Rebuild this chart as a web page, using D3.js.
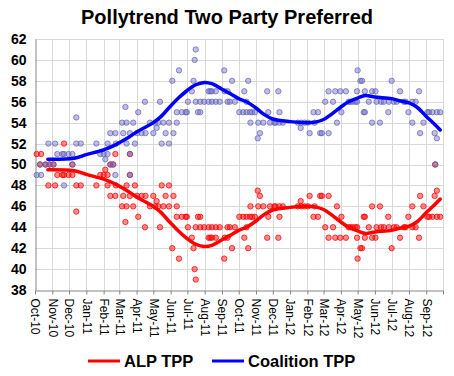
<!DOCTYPE html>
<html>
<head>
<meta charset="utf-8">
<script src="https://cdn.jsdelivr.net/npm/d3@7"></script>
<style>
  body { margin: 0; background: #fff; }
  svg { display: block; font-family: "Liberation Sans", Arial, sans-serif; }
</style>
</head>
<body>
<figure id="pollytrend" style="margin:0"></figure>
<script>
// chart text
const chartTitle = "Pollytrend Two Party Preferred";
const seriesNames = ["ALP TPP", "Coalition TPP"];
const seriesColors = ["#ff0000", "#0000ff"];

// axis ranges and ticks
const yTicks = [38, 40, 42, 44, 46, 48, 50, 52, 54, 56, 58, 60, 62];
const xStart = "2010-10-01";
const xEnd = "2012-10-01";

// individual polls (date, ALP two party preferred, Coalition two party preferred)
const pollDates = [
  "2010-10-04", "2010-10-10", "2010-10-12", "2010-10-20", "2010-10-25", "2010-10-27", "2010-11-03", "2010-11-06", "2010-11-10",
  "2010-11-19", "2010-11-22", "2010-11-22", "2010-11-30", "2010-12-07", "2010-12-07", "2010-12-14", "2010-12-14", "2010-12-22",
  "2011-01-19", "2011-01-26", "2011-02-01", "2011-02-04", "2011-02-08", "2011-02-08", "2011-02-13", "2011-02-13", "2011-02-18",
  "2011-02-22", "2011-02-22", "2011-02-23",
  "2011-03-06", "2011-03-08", "2011-03-12", "2011-03-14", "2011-03-14", "2011-03-20", "2011-03-20", "2011-03-20", "2011-03-26",
  "2011-03-29", "2011-04-02", "2011-04-04", "2011-04-10", "2011-04-16", "2011-04-17", "2011-04-25", "2011-05-01", "2011-05-04",
  "2011-05-07", "2011-05-10", "2011-05-13", "2011-05-16", "2011-05-19", "2011-05-23", "2011-05-29", "2011-05-29", "2011-06-04",
  "2011-06-06", "2011-06-12", "2011-06-12", "2011-06-16", "2011-06-21", "2011-06-28", "2011-06-30", "2011-07-02", "2011-07-09",
  "2011-07-12", "2011-07-14", "2011-07-16", "2011-07-16", "2011-07-20",
  "2011-07-24", "2011-07-24", "2011-07-31", "2011-08-08", "2011-08-08", "2011-08-11", "2011-08-14", "2011-08-14", "2011-08-21",
  "2011-08-21", "2011-08-28", "2011-09-05", "2011-09-06", "2011-09-11", "2011-09-11", "2011-09-15", "2011-09-19", "2011-09-24",
  "2011-10-02", "2011-10-09", "2011-10-11", "2011-10-15", "2011-10-15", "2011-10-18", "2011-10-21", "2011-10-22", "2011-10-25",
  "2011-10-30", "2011-11-04", "2011-11-05", "2011-11-08", "2011-11-14", "2011-11-21", "2011-11-23", "2011-11-26", "2011-12-04",
  "2011-12-06", "2011-12-11", "2011-12-13", "2011-12-13", "2011-12-19",
  "2012-01-15", "2012-01-20", "2012-01-21", "2012-01-27", "2012-02-02", "2012-02-05", "2012-02-12", "2012-02-14", "2012-02-20",
  "2012-02-24", "2012-02-27", "2012-03-04", "2012-03-10", "2012-03-10", "2012-03-18", "2012-03-22", "2012-03-25", "2012-03-31",
  "2012-04-02", "2012-04-10", "2012-04-15", "2012-04-18", "2012-04-22", "2012-04-27", "2012-04-30", "2012-04-30", "2012-05-01",
  "2012-05-06", "2012-05-09", "2012-05-12",
  "2012-05-14", "2012-05-14", "2012-05-21", "2012-05-27", "2012-05-27", "2012-06-02", "2012-06-04", "2012-06-10", "2012-06-12",
  "2012-06-17", "2012-06-25", "2012-06-26", "2012-07-01", "2012-07-05", "2012-07-10", "2012-07-16", "2012-07-23", "2012-07-26",
  "2012-07-31", "2012-08-07", "2012-08-07", "2012-08-13", "2012-08-19", "2012-08-21", "2012-08-27", "2012-09-03", "2012-09-06",
  "2012-09-12", "2012-09-16", "2012-09-17", "2012-09-20", "2012-09-20", "2012-09-26"
];
const alpPolls = [
  51, 50, 51, 50, 48, 50, 50, 48, 49,
  49, 52, 49, 49, 50, 49, 45.5, 48, 48,
  48, 49, 49, 49.5, 48, 49, 50, 47, 50,
  47, 51, 48,
  46, 47, 44.5, 46, 48, 47, 51, 49, 46,
  48, 47, 45, 47, 44, 47, 46, 47, 46,
  46.5, 46, 44, 48, 46, 47, 46, 48, 42,
  47, 45, 46, 41, 45, 45, 45, 44, 43,
  42, 40, 39, 44, 45,
  45, 44, 44, 44, 43, 43, 44, 43, 44,
  43, 44, 41, 43, 44, 43, 44, 42, 44,
  45, 45, 43, 45, 44, 42, 45, 46, 45,
  45, 47.5, 46, 47, 46, 43, 45, 46, 46,
  46, 43, 45, 46, 46,
  46, 46.5, 46, 46, 46, 47, 45, 46, 45,
  47, 47, 44, 47, 43, 44, 43, 46, 43,
  45, 43, 44, 44, 44, 44, 44, 43, 41,
  42, 42, 45,
  43, 45, 44, 46, 43, 43, 44, 46, 44,
  44, 45, 44, 42, 44, 44, 43, 44, 44,
  45, 44, 46, 44, 43, 47, 46, 45, 45,
  45, 47, 50, 47.5, 45, 45
];
const coalitionPolls = [
  49, 50, 49, 50, 52, 50, 50, 52, 51,
  51, 48, 51, 51, 50, 51, 54.5, 52, 52,
  52, 51, 51, 50.5, 52, 51, 50, 53, 50,
  53, 49, 52,
  54, 53, 55.5, 54, 52, 53, 49, 51, 54,
  52, 53, 55, 53, 56, 53, 54, 53, 54,
  53.5, 54, 56, 52, 54, 53, 54, 52, 58,
  53, 55, 54, 59, 55, 55, 55, 56, 57,
  58, 60, 61, 56, 55,
  55, 56, 56, 56, 57, 57, 56, 57, 56,
  57, 56, 59, 57, 56, 57, 56, 58, 56,
  55, 55, 57, 55, 56, 58, 55, 54, 55,
  55, 52.5, 54, 53, 54, 57, 55, 54, 54,
  54, 57, 55, 54, 54,
  54, 53.5, 54, 54, 54, 53, 55, 54, 55,
  53, 53, 56, 53, 57, 56, 57, 54, 57,
  55, 57, 56, 56, 56, 56, 56, 57, 59,
  58, 58, 55,
  57, 55, 56, 54, 57, 57, 56, 54, 56,
  56, 55, 56, 58, 56, 56, 57, 56, 56,
  55, 56, 54, 56, 57, 53, 54, 55, 55,
  55, 53, 50, 52.5, 55, 55
];

// smoothed trend (Pollytrend)
const trendDates = [
  "2010-10-24", "2010-12-10", "2011-01-01", "2011-02-01", "2011-02-23", "2011-03-15", "2011-04-01", "2011-05-01",
  "2011-05-15", "2011-06-01", "2011-06-15", "2011-07-01", "2011-07-15", "2011-08-01", "2011-08-15", "2011-09-01",
  "2011-09-15", "2011-10-01", "2011-10-15", "2011-11-01", "2011-11-15", "2011-12-01", "2012-01-01", "2012-02-01",
  "2012-02-15", "2012-03-01", "2012-03-15", "2012-04-01", "2012-04-15", "2012-05-01", "2012-05-15", "2012-06-01",
  "2012-07-01", "2012-07-15", "2012-08-01", "2012-08-15", "2012-09-01", "2012-09-15", "2012-09-26"
];
const alpTrend = [
  49.5, 49.4, 49.05, 48.6, 48.1, 47.5, 46.9, 46.0,
  45.4, 44.4, 43.65, 42.9, 42.4, 42.15, 42.3, 42.8,
  43.2, 43.7, 44.0, 44.6, 45.2, 45.65, 45.9, 46.0,
  45.95, 45.7, 45.2, 44.5, 44.0, 43.65, 43.4, 43.55,
  43.7, 43.9, 44.1, 44.5, 45.4, 46.1, 46.7
];
const coalitionTrend = [
  50.5, 50.6, 50.95, 51.4, 51.9, 52.5, 53.1, 54.0,
  54.6, 55.6, 56.35, 57.1, 57.6, 57.85, 57.7, 57.2,
  56.8, 56.3, 56.0, 55.4, 54.8, 54.35, 54.1, 54.0,
  54.05, 54.3, 54.8, 55.5, 56.0, 56.35, 56.6, 56.45,
  56.3, 56.1, 55.9, 55.5, 54.6, 53.9, 53.3
];

class PollChart {
  constructor() {
    this.width = 454;
    this.height = 376;
    this.left = 35;
    this.right = 443;
    this.top = 39;
    this.bottom = 290;
  }

  init() {
    const figure = d3.select("figure#pollytrend");
    this.svg = figure.append("svg")
      .attr("width", this.width)
      .attr("height", this.height)
      .attr("viewBox", `0 0 ${this.width} ${this.height}`);
    const parse = d3.timeParse("%Y-%m-%d");
    this.parse = parse;
    this.x = d3.scaleTime()
      .domain([parse(xStart), parse(xEnd)])
      .range([this.left, this.right]);
    this.y = d3.scaleLinear()
      .domain([d3.min(yTicks), d3.max(yTicks)])
      .range([this.bottom, this.top]);
  }

  draw() {
    this.drawGrid();
    this.drawAxes();
    this.drawPoints(pollDates, alpPolls, "rgba(255,0,0,0.45)", "rgba(255,0,0,0.75)");
    this.drawPoints(pollDates, coalitionPolls, "rgba(110,110,200,0.45)", "rgba(90,90,175,0.65)");
    this.drawTrend(trendDates, alpTrend, seriesColors[0]);
    this.drawTrend(trendDates, coalitionTrend, seriesColors[1]);
    this.drawTitle();
    this.drawLegend();
  }

  drawGrid() {
    const months = d3.timeMonth.range(this.x.domain()[0], d3.timeDay.offset(this.x.domain()[1], 1));
    const grid = this.svg.append("g").attr("stroke", "#d9d9d9").attr("stroke-width", 1);
    grid.selectAll("line.h")
      .data(yTicks.slice(1)).enter()
      .append("line")
      .attr("x1", this.left)
      .attr("x2", this.right)
      .attr("y1", (d) => Math.round(this.y(d)) + 0.5)
      .attr("y2", (d) => Math.round(this.y(d)) + 0.5);
    grid.selectAll("line.v")
      .data(months.slice(1)).enter()
      .append("line")
      .attr("x1", (d) => Math.round(this.x(d)) + 0.5)
      .attr("x2", (d) => Math.round(this.x(d)) + 0.5)
      .attr("y1", this.top)
      .attr("y2", this.bottom);
  }

  drawAxes() {
    // x axis: a tick for every month, labels turned to read downwards
    const xAxis = d3.axisBottom(this.x)
      .ticks(d3.timeMonth.every(1))
      .tickFormat(d3.timeFormat("%b-%y"))
      .tickSizeOuter(0)
      .tickSizeInner(4);
    const gx = this.svg.append("g")
      .attr("transform", `translate(0,${this.bottom + 0.5})`)
      .call(xAxis);
    gx.select(".domain").attr("stroke", "#868686");
    gx.selectAll(".tick line").attr("stroke", "#868686");
    gx.selectAll(".tick text")
      .filter((d) => d > this.x.domain()[1] - 86400000)
      .remove();
    gx.selectAll(".tick text")
      .attr("transform", "rotate(90)")
      .attr("x", 8)
      .attr("y", 0)
      .attr("dy", "0.35em")
      .attr("text-anchor", "start")
      .attr("fill", "#000")
      .style("font-size", "12px");

    // y axis
    const yAxis = d3.axisLeft(this.y)
      .tickValues(yTicks)
      .tickSizeOuter(0)
      .tickSizeInner(0)
      .tickPadding(9);
    const gy = this.svg.append("g")
      .attr("transform", `translate(${this.left + 0.5},0)`)
      .call(yAxis);
    gy.select(".domain").attr("stroke", "#868686");
    gy.selectAll(".tick text")
      .attr("fill", "#000")
      .style("font-size", "14px")
      .style("font-weight", "bold");
  }

  drawPoints(dates, values, fill, stroke) {
    const rows = dates.map((d, i) => ({ date: this.parse(d), value: values[i] }));
    this.svg.append("g")
      .selectAll("circle")
      .data(rows).enter()
      .append("circle")
      .attr("cx", (d) => this.x(d.date))
      .attr("cy", (d) => this.y(d.value))
      .attr("r", 2.7)
      .attr("fill", fill)
      .attr("stroke", stroke)
      .attr("stroke-width", 1);
  }

  drawTrend(dates, values, color) {
    const rows = dates.map((d, i) => ({ date: this.parse(d), value: values[i] }));
    const line = d3.line()
      .x((d) => this.x(d.date))
      .y((d) => this.y(d.value))
      .curve(d3.curveCatmullRom);
    this.svg.append("path")
      .datum(rows)
      .attr("d", line)
      .attr("fill", "none")
      .attr("stroke", color)
      .attr("stroke-width", 3.5)
      .attr("stroke-linecap", "round");
  }

  drawTitle() {
    this.svg.append("text")
      .attr("x", 227)
      .attr("y", 24)
      .text(chartTitle)
      .attr("fill", "#000")
      .style("text-anchor", "middle")
      .style("font-size", "20px")
      .style("font-weight", "bold");
  }

  drawLegend() {
    const items = [
      { name: seriesNames[0], color: seriesColors[0], x: 88 },
      { name: seriesNames[1], color: seriesColors[1], x: 212 }
    ];
    const g = this.svg.append("g");
    const item = g.selectAll("g.item")
      .data(items).enter()
      .append("g")
      .attr("transform", (d) => `translate(${d.x},361)`);
    item.append("line")
      .attr("x1", 0)
      .attr("x2", 32)
      .attr("stroke", (d) => d.color)
      .attr("stroke-width", 3);
    item.append("text")
      .attr("x", 36)
      .attr("y", 6)
      .text((d) => d.name)
      .attr("fill", "#000")
      .style("font-size", "16.5px")
      .style("font-weight", "bold");
  }
}

const pollChart = new PollChart();
pollChart.init();
pollChart.draw();
</script>
</body>
</html>
